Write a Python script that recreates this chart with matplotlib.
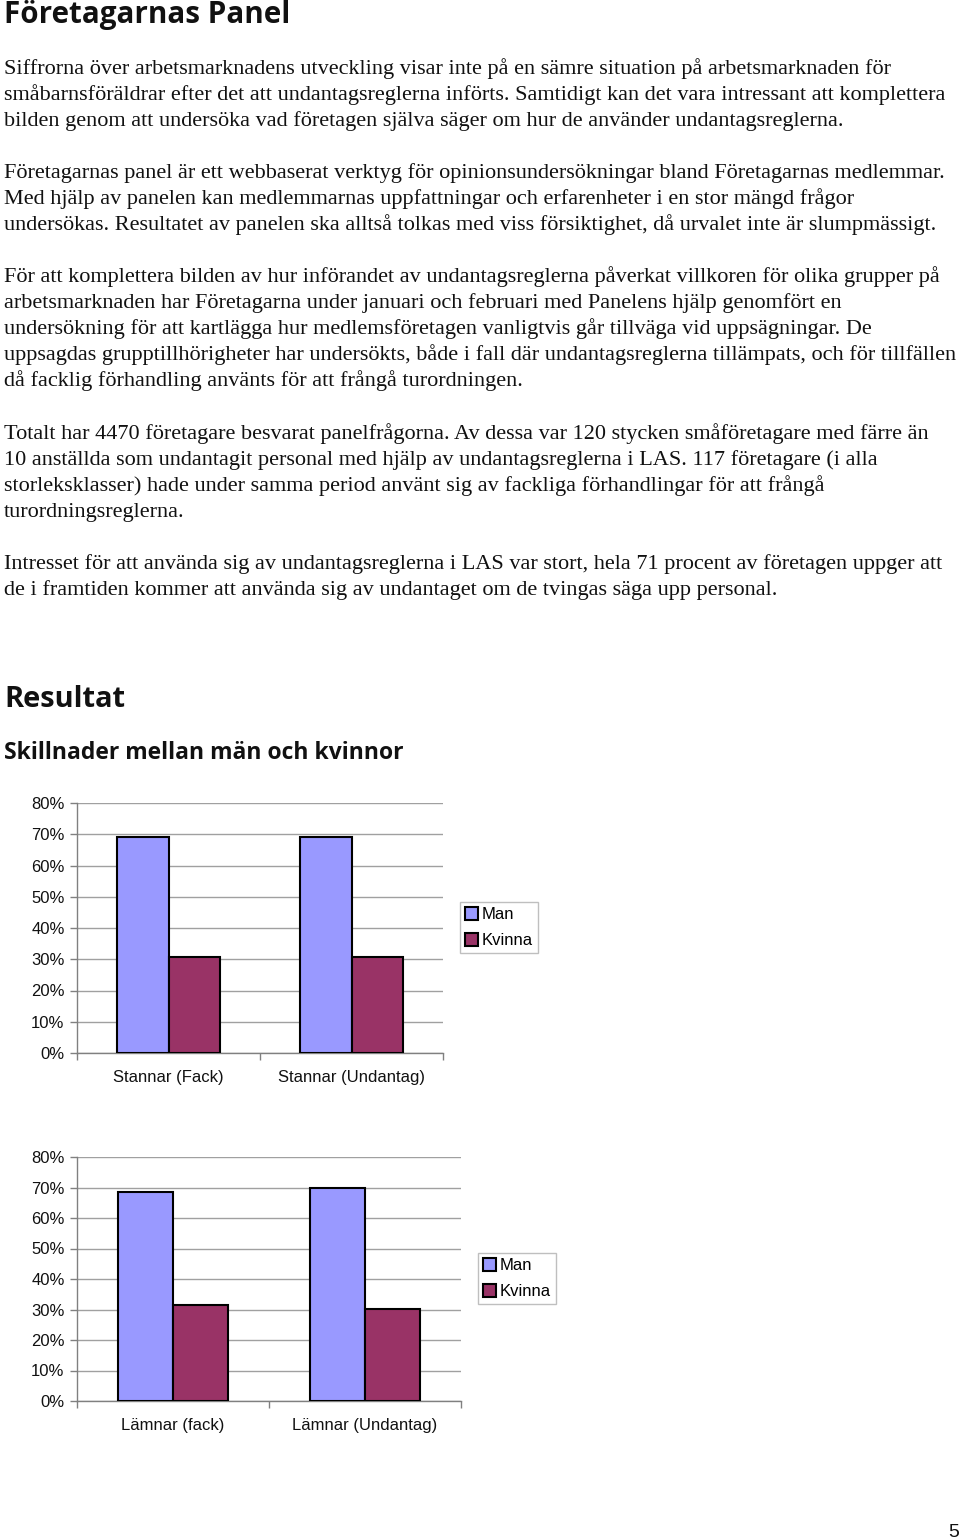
import matplotlib
matplotlib.use("Agg")
import matplotlib.pyplot as plt
import numpy as np

W, H = 960, 1539

# ---- data ----
series = ["Man", "Kvinna"]
colors = ["#9999FF", "#993366"]
chart1_categories = ["Stannar (Fack)", "Stannar (Undantag)"]
chart1_man = [69.2, 69.2]
chart1_kvinna = [30.8, 30.8]
chart2_categories = ["Lämnar (fack)", "Lämnar (Undantag)"]
chart2_man = [68.6, 69.7]
chart2_kvinna = [31.4, 30.3]
yticks = [0, 10, 20, 30, 40, 50, 60, 70, 80]

title = "Företagarnas Panel"
paragraphs = [
    ["Siffrorna över arbetsmarknadens utveckling visar inte på en sämre situation på arbetsmarknaden för",
     "småbarnsföräldrar efter det att undantagsreglerna införts. Samtidigt kan det vara intressant att komplettera",
     "bilden genom att undersöka vad företagen själva säger om hur de använder undantagsreglerna."],
    ["Företagarnas panel är ett webbaserat verktyg för opinionsundersökningar bland Företagarnas medlemmar.",
     "Med hjälp av panelen kan medlemmarnas uppfattningar och erfarenheter i en stor mängd frågor",
     "undersökas. Resultatet av panelen ska alltså tolkas med viss försiktighet, då urvalet inte är slumpmässigt."],
    ["För att komplettera bilden av hur införandet av undantagsreglerna påverkat villkoren för olika grupper på",
     "arbetsmarknaden har Företagarna under januari och februari med Panelens hjälp genomfört en",
     "undersökning för att kartlägga hur medlemsföretagen vanligtvis går tillväga vid uppsägningar. De",
     "uppsagdas grupptillhörigheter har undersökts, både i fall där undantagsreglerna tillämpats, och för tillfällen",
     "då facklig förhandling använts för att frångå turordningen."],
    ["Totalt har 4470 företagare besvarat panelfrågorna. Av dessa var 120 stycken småföretagare med färre än",
     "10 anställda som undantagit personal med hjälp av undantagsreglerna i LAS. 117 företagare (i alla",
     "storleksklasser) hade under samma period använt sig av fackliga förhandlingar för att frångå",
     "turordningsreglerna."],
    ["Intresset för att använda sig av undantagsreglerna i LAS var stort, hela 71 procent av företagen uppger att",
     "de i framtiden kommer att använda sig av undantaget om de tvingas säga upp personal."],
]
para_start = [74, 178, 282, 439, 569]
heading1 = "Resultat"
heading2 = "Skillnader mellan män och kvinnor"

fig = plt.figure(figsize=(W / 100, H / 100), dpi=100)
fig.patch.set_facecolor("white")


def fx(x):
    return x / W


def fy(y):
    return 1 - y / H


renderer = fig.canvas.get_renderer()


def fit_text(x, y, s, target_w, family, weight="normal", size0=14):
    t = fig.text(fx(x), fy(y), s, family=family, weight=weight, fontsize=size0,
                 va="baseline", ha="left", color="#111111")
    w = t.get_window_extent(renderer).width
    t.set_fontsize(size0 * target_w / w)
    return t


serif = ["Liberation Serif", "DejaVu Serif"]
sans_head = ["Open Sans", "DejaVu Sans"]

fit_text(4, 23, title, 286, sans_head, weight="bold", size0=20)

# body size from first line width
t0 = fig.text(0, 0, paragraphs[0][0], family=serif, fontsize=14)
w0 = t0.get_window_extent(renderer).width
t0.remove()
body_size = 14 * 895 / w0

for start, lines in zip(para_start, paragraphs):
    for i, line in enumerate(lines):
        fig.text(fx(4), fy(start + 26 * i), line, family=serif, fontsize=body_size,
                 va="baseline", ha="left", color="#111111")

fit_text(4, 707, heading1, 121, sans_head, weight="bold", size0=20)
fit_text(4, 759, heading2, 400, sans_head, weight="bold", size0=16)

fig.text(fx(959), fy(1537), "5", family=["Liberation Sans"], fontsize=14,
         ha="right", va="baseline", color="#111111")


def bar_chart(left, right, top, bottom, cats, man, kvinna, bw, leg_box):
    ax = fig.add_axes([fx(left), fy(bottom), fx(right) - fx(left), (bottom - top) / H])
    ax.set_xlim(0, len(cats))
    ax.set_ylim(0, 80)
    x = np.arange(len(cats)) + 0.5
    b1 = ax.bar(x - bw / 2, man, width=bw, color=colors[0], edgecolor="black",
                linewidth=1.5, label=series[0], zorder=3)
    b2 = ax.bar(x + bw / 2, kvinna, width=bw, color=colors[1], edgecolor="black",
                linewidth=1.5, label=series[1], zorder=3)
    ax.set_yticks(yticks)
    ax.set_yticklabels([f"{v}%" for v in yticks])
    ax.yaxis.grid(True, color="#a0a0a0", linewidth=1)
    ax.set_axisbelow(True)
    ax.set_xticks(x)
    ax.set_xticklabels(cats)
    ax.set_xticks(np.arange(len(cats) + 1), minor=True)
    ax.tick_params(axis="x", which="major", length=0, pad=12, labelsize=12)
    ax.tick_params(axis="x", which="minor", length=5, color="#808080", width=1)
    ax.tick_params(axis="y", length=5, color="#808080", width=1, pad=4, labelsize=12)
    for lab in ax.get_xticklabels() + ax.get_yticklabels():
        lab.set_family(["Liberation Sans", "DejaVu Sans"])
        lab.set_color("#111111")
    for s in ["top", "right"]:
        ax.spines[s].set_visible(False)
    for s in ["left", "bottom"]:
        ax.spines[s].set_color("#808080")
        ax.spines[s].set_linewidth(1)
    lx0, ly0, lx1, ly1 = leg_box
    leg = ax.legend(handles=[b1, b2], labels=series, loc="upper left",
                    bbox_to_anchor=(fx(lx0), fy(ly0)), bbox_transform=fig.transFigure,
                    frameon=True, fancybox=False, edgecolor="#b0b0b0",
                    prop={"family": ["Liberation Sans"], "size": 12},
                    handlelength=0.8, handleheight=0.8, handletextpad=0.2,
                    borderpad=0.3, labelspacing=0.65, borderaxespad=0)
    leg.get_frame().set_linewidth(1)
    return ax


bar_chart(77, 443, 803, 1053, chart1_categories, chart1_man, chart1_kvinna, 0.284,
          (460, 902, 540, 955))
bar_chart(77, 461, 1157, 1401, chart2_categories, chart2_man, chart2_kvinna, 0.289,
          (478, 1253, 558, 1305))

fig.savefig("out.png", dpi=100)
